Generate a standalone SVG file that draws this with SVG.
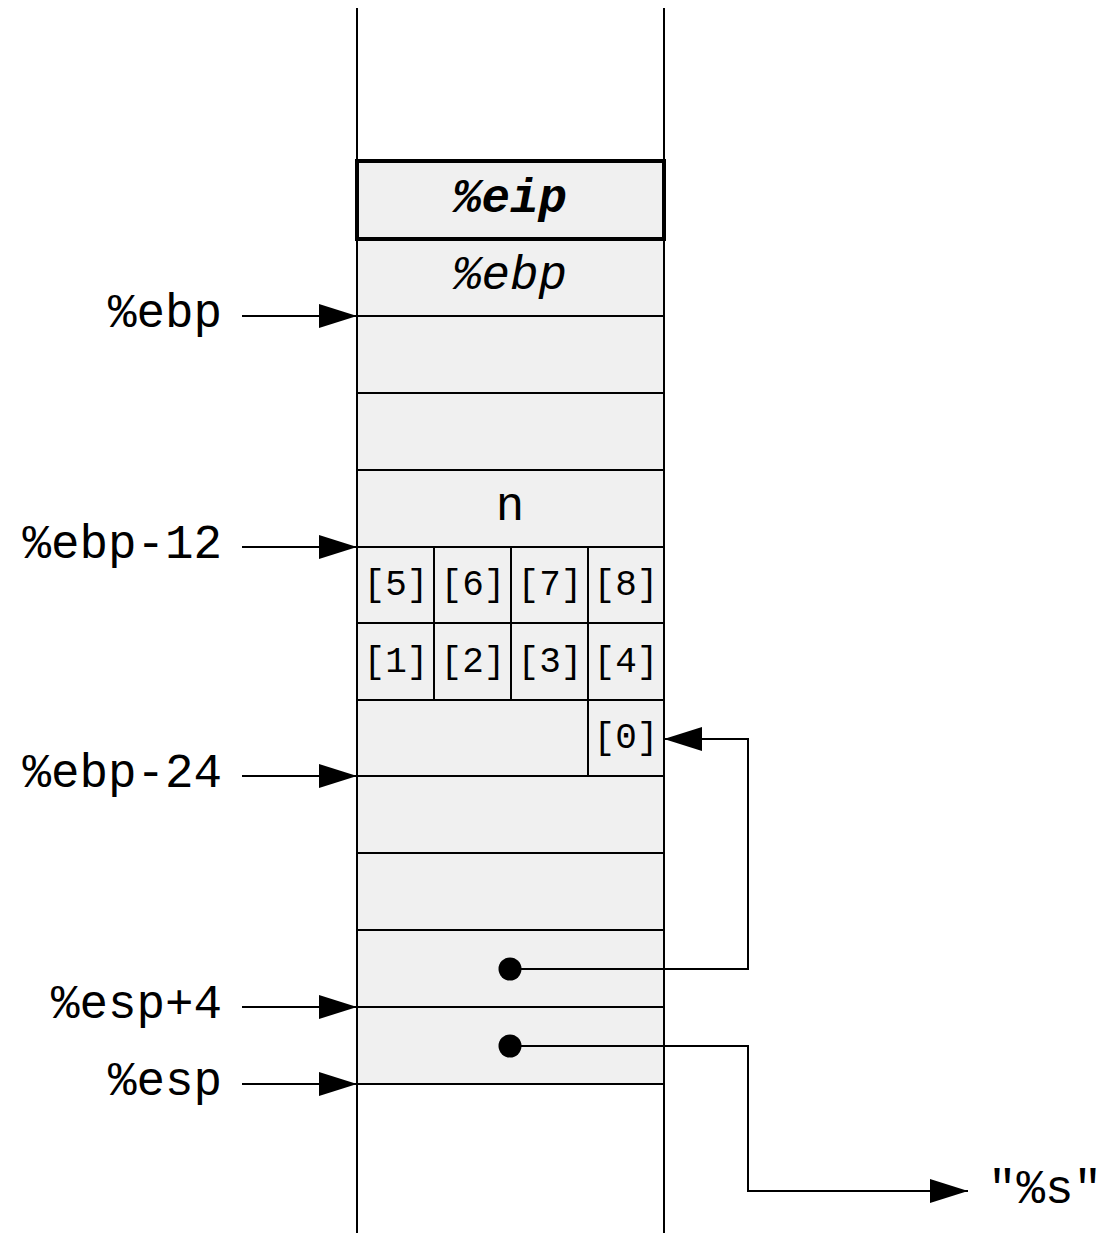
<svg xmlns="http://www.w3.org/2000/svg" width="1102" height="1233" viewBox="0 0 1102 1233">
  <style>
    .cell { fill: #f0f0f0; stroke: #000; stroke-width: 2; }
    .cell.bold { stroke-width: 4; }
    .line { fill: none; stroke: #000; stroke-width: 2; }
    .big { font-family: "Liberation Mono", "Courier New", monospace; font-size: 47.5px; fill: #000; }
    .idx { font-family: "Liberation Mono", "Courier New", monospace; font-size: 36px; fill: #000; text-anchor: middle; }
    .reg { text-anchor: end; }
  </style>
  <defs>
    <marker id="head" markerWidth="38" markerHeight="24" refX="38" refY="12" orient="auto" markerUnits="userSpaceOnUse">
      <path d="M0,0 L38,12 L0,24 Z" fill="#000"/>
    </marker>
  </defs>

  <rect width="1102" height="1233" fill="#fff"/>

  <!-- stack frame cells -->
  <g id="stack">
    <g id="cell-ebp-saved">
      <rect class="cell" x="357" y="239" width="307" height="77"/>
      <text class="big" x="510" y="289" text-anchor="middle" font-style="italic">%ebp</text>
    </g>
    <rect id="cell-a" class="cell" x="357" y="316" width="307" height="77"/>
    <rect id="cell-b" class="cell" x="357" y="393" width="307" height="77"/>
    <g id="cell-n">
      <rect class="cell" x="357" y="470" width="307" height="77"/>
      <text class="big" x="510" y="520" text-anchor="middle">n</text>
    </g>
    <g id="row-5-8">
      <rect class="cell" x="357" y="547" width="77" height="76"/>
      <rect class="cell" x="434" y="547" width="77" height="76"/>
      <rect class="cell" x="511" y="547" width="77" height="76"/>
      <rect class="cell" x="588" y="547" width="76" height="76"/>
      <text class="idx" x="396" y="595">[5]</text>
      <text class="idx" x="473" y="595">[6]</text>
      <text class="idx" x="550" y="595">[7]</text>
      <text class="idx" x="626" y="595">[8]</text>
    </g>
    <g id="row-1-4">
      <rect class="cell" x="357" y="623" width="77" height="77"/>
      <rect class="cell" x="434" y="623" width="77" height="77"/>
      <rect class="cell" x="511" y="623" width="77" height="77"/>
      <rect class="cell" x="588" y="623" width="76" height="77"/>
      <text class="idx" x="396" y="672">[1]</text>
      <text class="idx" x="473" y="672">[2]</text>
      <text class="idx" x="550" y="672">[3]</text>
      <text class="idx" x="626" y="672">[4]</text>
    </g>
    <g id="row-0">
      <rect class="cell" x="357" y="700" width="231" height="76"/>
      <rect class="cell" x="588" y="700" width="76" height="76"/>
      <text class="idx" x="626" y="748">[0]</text>
    </g>
    <rect id="cell-c" class="cell" x="357" y="776" width="307" height="77"/>
    <rect id="cell-d" class="cell" x="357" y="853" width="307" height="77"/>
    <rect id="cell-arg2" class="cell" x="357" y="930" width="307" height="77"/>
    <rect id="cell-arg1" class="cell" x="357" y="1007" width="307" height="77"/>
  </g>

  <!-- stack walls -->
  <g id="walls">
    <line class="line" x1="357" y1="8" x2="357" y2="1233"/>
    <line class="line" x1="664" y1="8" x2="664" y2="1233"/>
  </g>

  <!-- return address slot, drawn over the walls -->
  <g id="cell-eip">
    <rect class="cell bold" x="357" y="161" width="307" height="78"/>
    <text class="big" x="510" y="212" text-anchor="middle" font-style="italic" font-weight="bold">%eip</text>
  </g>

  <!-- register labels -->
  <g id="labels">
    <text class="big reg" x="222" y="327">%ebp</text>
    <text class="big reg" x="222" y="558">%ebp-12</text>
    <text class="big reg" x="222" y="787">%ebp-24</text>
    <text class="big reg" x="222" y="1018">%esp+4</text>
    <text class="big reg" x="222" y="1095">%esp</text>
    <text class="big" x="988" y="1203">"%s"</text>
  </g>

  <!-- connectors -->
  <g id="connectors">
    <line class="line" x1="242" y1="316" x2="357" y2="316" marker-end="url(#head)"/>
    <line class="line" x1="242" y1="547" x2="357" y2="547" marker-end="url(#head)"/>
    <line class="line" x1="242" y1="776" x2="357" y2="776" marker-end="url(#head)"/>
    <line class="line" x1="242" y1="1007" x2="357" y2="1007" marker-end="url(#head)"/>
    <line class="line" x1="242" y1="1084" x2="357" y2="1084" marker-end="url(#head)"/>
    <polyline class="line" points="510,969 748,969 748,739 664,739" marker-end="url(#head)"/>
    <polyline class="line" points="510,1046 748,1046 748,1191 968,1191" marker-end="url(#head)"/>
    <circle cx="510" cy="969" r="11.5" fill="#000"/>
    <circle cx="510" cy="1046" r="11.5" fill="#000"/>
  </g>
</svg>
